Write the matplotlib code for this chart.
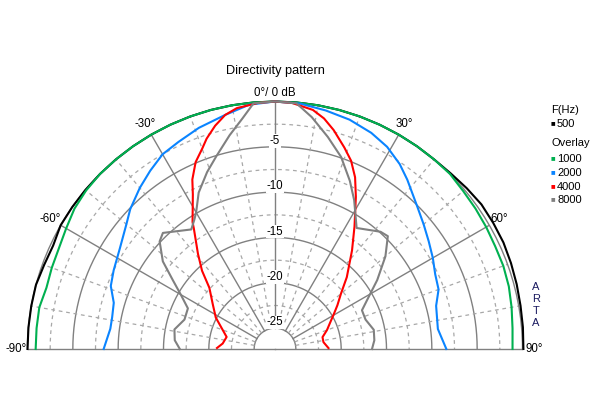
import numpy as np
import matplotlib.pyplot as plt

plt.rcParams['font.family'] = ['Liberation Sans', 'DejaVu Sans']

# --- 1. Data (angle in degrees, level in dB relative to 0 deg) ---
freqs = [500, 1000, 2000, 4000, 8000]
colors = ['#000000', '#00b050', '#0a84ff', '#ff0000', '#808080']

ang_500 = [-90, -85, -80, -75, -70, -65, -60, -55, -50, -45, -40, -35, -30, -25, -20, -15, -10, -5, 0,
           5, 10, 15, 20, 25, 30, 35, 40, 45, 50, 55, 60, 65, 70, 75, 80, 85, 90]
db_500 = [0.0, 0.0, 0.0, 0.0, -0.2, -0.3, 0.0, 0.0, 0.0, 0.0, 0.0, 0.0, 0.0, 0.0, 0.0, 0.0, 0.0, 0.0, 0.0,
          0.0, 0.0, 0.0, 0.0, 0.0, 0.0, 0.0, 0.0, 0.1, 0.3, 0.5, 0.5, 0.5, 0.4, 0.3, 0.2, 0.15, 0.1]

ang_1000 = [-90, -85, -80, -75, -70, -65, -60, -55, -50, -45, -40, -35, -30, -25, -20, -15, -10, -5, 0,
            5, 10, 15, 20, 25, 30, 35, 40, 45, 50, 55, 60, 65, 70, 75, 80, 85, 90]
db_1000 = [-0.9, -0.9, -0.9, -1.2, -1.1, -1.0, -0.7, -0.3, -0.1, 0.0, 0.0, 0.0, 0.0, 0.0, 0.0, 0.0, 0.0, 0.0, 0.0,
           0.0, 0.0, 0.0, 0.0, 0.0, 0.0, 0.0, 0.0, 0.0, -0.2, -0.3, -0.4, -0.5, -0.5, -0.6, -0.8, -1.0, -1.1]

ang_2000 = [-90, -83, -79, -74, -69, -64, -57, -50, -46, -40, -35, -30, -25, -19, -12, -6, 0,
            6, 12, 18, 24, 29, 34, 38, 45, 50, 55, 60, 65, 70, 75, 83, 90]
db_2000 = [-8.4, -9.0, -9.0, -8.8, -7.9, -7.5, -6.9, -5.9, -5.1, -4.1, -3.3, -2.5, -2.1, -1.5, -0.9, -0.2, 0.0,
           -0.1, -0.4, -0.7, -1.2, -1.8, -2.7, -3.6, -5.1, -5.9, -6.6, -7.2, -7.8, -8.1, -8.9, -9.2, -8.4]

ang_4000 = [-89, -84, -76, -68, -62, -54, -47, -43, -39, -34, -33, -28, -26, -23, -20, -18, -15, -12, -9, -4, 0,
            4, 9, 12, 15, 19, 22, 25, 28, 33, 38, 45, 50, 55, 59, 64, 70, 76, 82, 89]
db_4000 = [-20.9, -21.5, -21.8, -20.9, -19.9, -18.8, -17.4, -15.5, -13.8, -11.3, -10.6, -8.0, -6.5, -4.9, -3.8,
           -2.9, -1.8, -0.9, -0.4, -0.1, 0.0,
           -0.1, -0.6, -1.3, -2.3, -3.8, -4.9, -6.4, -8.3, -11.2, -13.5, -16.1, -17.8, -18.9, -19.7, -20.5, -21.2,
           -21.9, -21.9, -21.4]

ang_8000 = [-90, -85, -79, -72, -65, -60, -56, -52, -47, -44, -35, -32, -30, -26, -21, -17, -12, -8, -5, 0,
            5, 9, 14, 19, 24, 28, 34, 42, 45, 50, 56, 61, 66, 72, 79, 85, 90]
db_8000 = [-16.8, -16.2, -16.0, -16.8, -16.7, -15.3, -13.7, -11.6, -9.9, -9.5, -11.2, -10.5, -9.9, -8.1, -6.4,
           -5.1, -3.2, -1.6, -0.1, 0.0,
           -0.1, -1.4, -3.2, -4.9, -7.0, -8.7, -11.2, -9.9, -9.7, -11.4, -13.7, -15.5, -16.8, -16.8, -16.2,
           -16.3, -16.6]

curves = [(ang_500, db_500), (ang_1000, db_1000), (ang_2000, db_2000),
          (ang_4000, db_4000), (ang_8000, db_8000)]

ring_labels = [-5, -10, -15, -20, -25]
angle_labels = [-90, -60, -30, 30, 60, 90]

# --- 2. Figure ---
fig = plt.figure(figsize=(6, 4), dpi=100)
R = 247.5
# polar axes stays square, the half disc sits centred in it
cy = 349 - R / 2
ax = fig.add_axes([(275 - R) / 600, (400 - cy - R) / 400, 2 * R / 600, 2 * R / 400], projection='polar')
ax.set_theta_zero_location('N')
ax.set_theta_direction(-1)
ax.set_thetamin(-90)
ax.set_thetamax(90)
rmin = -27.3
ax.set_rlim(rmin, 0)
ax.set_xticks([])
ax.set_yticks([])
ax.grid(False)
for name in ['polar', 'start', 'end']:
    ax.spines[name].set_color('#808080')
    ax.spines[name].set_linewidth(1.0)
ax.spines['inner'].set_visible(False)

# grid
th = np.radians(np.linspace(-90, 90, 361))
for r in [-25, -20, -15, -10, -5]:
    ax.plot(th, np.full_like(th, r), color='#808080', lw=1.0, zorder=1)
for r in [-22.5, -17.5, -12.5, -7.5, -2.5]:
    ax.plot(th, np.full_like(th, r), color='#a8a8a8', lw=0.9, ls=(0, (3, 3)), zorder=1)
for a in [-60, -30, 0, 30, 60]:
    ax.plot([np.radians(a)] * 2, [-25, 0], color='#808080', lw=1.0, zorder=1)
for a in [-80, -70, -50, -40, -20, -10, 10, 20, 40, 50, 70, 80]:
    ax.plot([np.radians(a)] * 2, [-25, 0], color='#a8a8a8', lw=0.9, ls=(0, (3, 3)), zorder=1)

# curves
for (a, d), c in zip(curves, colors):
    ax.plot(np.radians(a), d, color=c, lw=1.5, clip_on=False, zorder=3)

# labels
for r in ring_labels:
    ax.text(0, r + 0.65, str(r), ha='center', va='center', fontsize=8.3, zorder=4,
            bbox=dict(facecolor='white', edgecolor='none', pad=0.5))
ax.text(0, 0.95, '0°/ 0 dB', ha='center', va='center', fontsize=8.3, clip_on=False)
for a in angle_labels:
    ax.text(np.radians(a), 1.3, f'{a}°', ha='center', va='center', fontsize=8.3, clip_on=False)

fig.text(275 / 600, 1 - 71 / 400, 'Directivity pattern', ha='center', va='center', fontsize=9.2)

# legend
fig.text(551 / 600, 1 - 110 / 400, 'F(Hz)', ha='left', va='center', fontsize=8)
fig.text(551 / 600, 1 - 143 / 400, 'Overlay', ha='left', va='center', fontsize=8)
leg_y = [124, 159, 173, 187, 200]
for f, c, y in zip(freqs, colors, leg_y):
    fig.text(551 / 600, 1 - y / 400, '■', color=c, ha='left', va='center', fontsize=5.5)
    fig.text(557 / 600, 1 - y / 400, str(f), ha='left', va='center', fontsize=8)

for ch, y in zip('ARTA', [287, 299, 311, 323]):
    fig.text(536 / 600, 1 - y / 400, ch, ha='center', va='center', fontsize=8, color='#1a1a60')

fig.savefig('out.png', dpi=100)
